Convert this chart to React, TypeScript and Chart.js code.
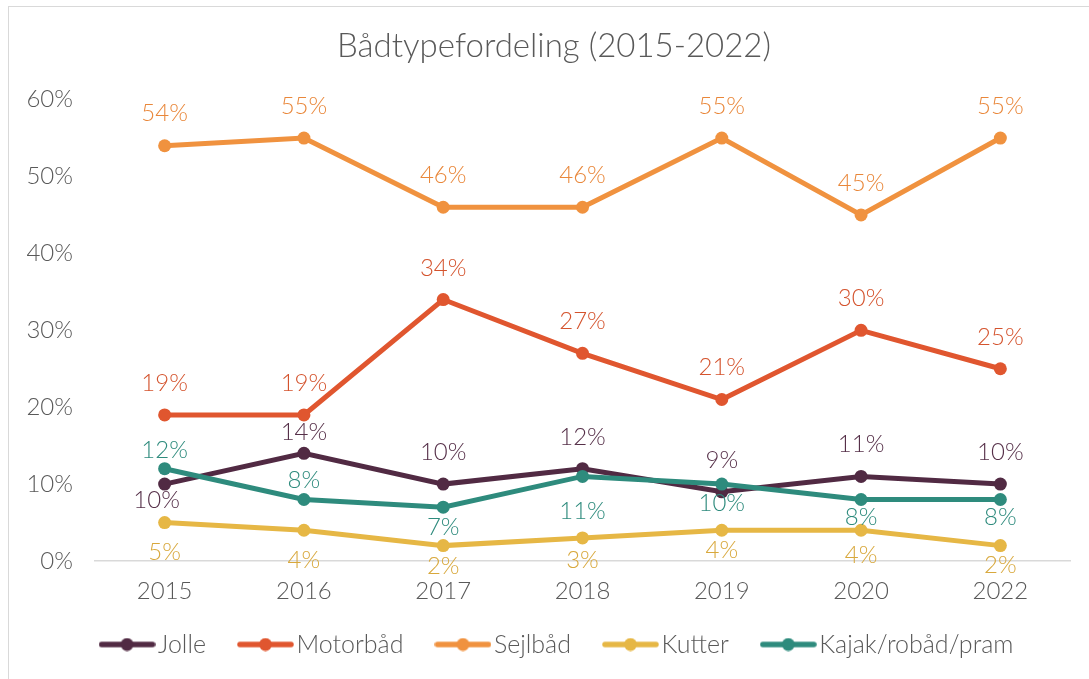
import React, { useEffect, useRef } from "react";
import { Chart, registerables } from "chart.js";

Chart.register(...registerables);

const years = ["2015", "2016", "2017", "2018", "2019", "2020", "2022"];
const seriesNames = ["Jolle", "Motorbåd", "Sejlbåd", "Kutter", "Kajak/robåd/pram"];
const jolle = [10, 14, 10, 12, 9, 11, 10];
const motorbaad = [19, 19, 34, 27, 21, 30, 25];
const sejlbaad = [54, 55, 46, 46, 55, 45, 55];
const kutter = [5, 4, 2, 3, 4, 4, 2];
const kajak = [12, 8, 7, 11, 10, 8, 8];
const yTicks = [0, 10, 20, 30, 40, 50, 60];

const lineColors = ["#512A43", "#E0562F", "#F0923F", "#E6B745", "#2E8B7D"];
const labelColors = ["#563049", "#D4532D", "#E9873A", "#D8A83C", "#2E8B7D"];

// label placement (pixel offsets from point), styling only
const labelDy = [
  [16, -21, -32, -31, -32, -32, -32],
  [-32, -32, -31, -32, -32, -32, -31],
  [-32, -32, -32, -32, -32, -32, -32],
  [30, 30, 21, 22, 20, 25, 20],
  [-18, -19, 20, 35, 19, 18, 18],
];
const labelDx = [
  [-8, 0, 0, 0, 0, 0, 0],
  [0, 0, 0, 0, 0, 0, 0],
  [0, 0, 0, 0, 0, 0, 0],
  [0, 0, 0, 0, 0, 0, 0],
  [0, 0, 0, 0, 0, 0, 0],
];

const FONT = "Lato, 'Open Sans', sans-serif";

function makeMarker(color: string): HTMLCanvasElement {
  const c = document.createElement("canvas");
  c.width = 57;
  c.height = 14;
  const ctx = c.getContext("2d")!;
  ctx.strokeStyle = color;
  ctx.lineWidth = 5.5;
  ctx.lineCap = "round";
  ctx.beginPath();
  ctx.moveTo(3, 7);
  ctx.lineTo(54, 7);
  ctx.stroke();
  ctx.fillStyle = color;
  ctx.beginPath();
  ctx.arc(28.5, 7, 6.5, 0, Math.PI * 2);
  ctx.fill();
  return c;
}

const dataLabelPlugin = {
  id: "dataLabels",
  afterDatasetsDraw(chart: any) {
    const ctx = chart.ctx;
    ctx.save();
    ctx.font = `300 24px ${FONT}`;
    ctx.textAlign = "center";
    ctx.textBaseline = "middle";
    chart.data.datasets.forEach((ds: any, di: number) => {
      const meta = chart.getDatasetMeta(di);
      meta.data.forEach((pt: any, i: number) => {
        ctx.fillStyle = labelColors[di];
        ctx.fillText(`${ds.data[i]}%`, pt.x + labelDx[di][i], pt.y + labelDy[di][i]);
      });
    });
    ctx.restore();
  },
};

// nudge title and legend to match the reference placement
const shiftPlugin = {
  id: "shiftBoxes",
  afterLayout(chart: any) {
    if (chart.legend) {
      chart.legend.left += 26;
      chart.legend.right += 26;
      chart.legend.top -= 28;
      chart.legend.bottom -= 28;
    }
    if (chart.titleBlock) {
      chart.titleBlock.left += 19;
      chart.titleBlock.right += 19;
    }
  },
};

export default function App() {
  const ref = useRef<HTMLCanvasElement>(null);
  useEffect(() => {
    const values = [jolle, motorbaad, sejlbaad, kutter, kajak];
    const markers = lineColors.map(makeMarker);
    const chart = new Chart(ref.current!, {
      type: "line",
      data: {
        labels: years,
        datasets: values.map((v, i) => ({
          label: seriesNames[i],
          data: v,
          borderColor: lineColors[i],
          backgroundColor: lineColors[i],
          borderWidth: 5,
          pointRadius: 6.5,
          pointHoverRadius: 6.5,
          pointBorderWidth: 0,
          tension: 0,
          order: values.length - 1 - i,
        })),
      },
      options: {
        animation: false,
        responsive: false,
        maintainAspectRatio: false,
        layout: { padding: { left: 0, right: 19, top: 0, bottom: -16 } },
        plugins: {
          title: {
            display: true,
            text: "Bådtypefordeling (2015-2022)",
            color: "#595959",
            font: { family: FONT, size: 33, weight: 300 },
            padding: { top: 27, bottom: 33 },
          },
          legend: {
            position: "bottom",
            labels: {
              usePointStyle: true,
              pointStyleWidth: 37,
              color: "#595959",
              font: { family: FONT, size: 25, weight: 300 },
              padding: 41,
              generateLabels: (ch: any) =>
                ch.data.datasets.map((ds: any, i: number) => ({
                  text: ds.label,
                  fillStyle: lineColors[i],
                  strokeStyle: lineColors[i],
                  lineWidth: 0,
                  pointStyle: markers[i],
                  fontColor: "#595959",
                  datasetIndex: i,
                  hidden: false,
                })),
            },
          },
          tooltip: { enabled: false },
        },
        scales: {
          x: {
            offset: true,
            grid: { display: false, drawTicks: false },
            border: { display: true, color: "#D9D9D9", width: 1.5 },
            ticks: { color: "#595959", font: { family: FONT, size: 24, weight: 300 }, padding: 16 },
            afterFit: (s: any) => {
              s.height = 58;
            },
          },
          y: {
            min: 0,
            max: 60,
            afterBuildTicks: (s: any) => {
              s.ticks = yTicks.map((v) => ({ value: v }));
            },
            grid: { display: false, drawTicks: false },
            border: { display: false },
            ticks: {
              color: "#595959",
              font: { family: FONT, size: 24, weight: 300 },
              padding: 22,
              callback: (v: any) => `${v}%`,
            },
            afterFit: (s: any) => {
              s.width = 95;
            },
          },
        },
      },
      plugins: [dataLabelPlugin, shiftPlugin],
    });
    return () => chart.destroy();
  }, []);
  return (
    <>
      <div
        style={{
          position: "fixed",
          left: 8,
          top: 6,
          width: 1200,
          height: 800,
          border: "1.5px solid #D9D9D9",
          background: "#fff",
        }}
      />
      <canvas
        ref={ref}
        width={1089}
        height={679}
        style={{ position: "fixed", left: 0, top: 0, width: 1089, height: 679 }}
      />
    </>
  );
}
